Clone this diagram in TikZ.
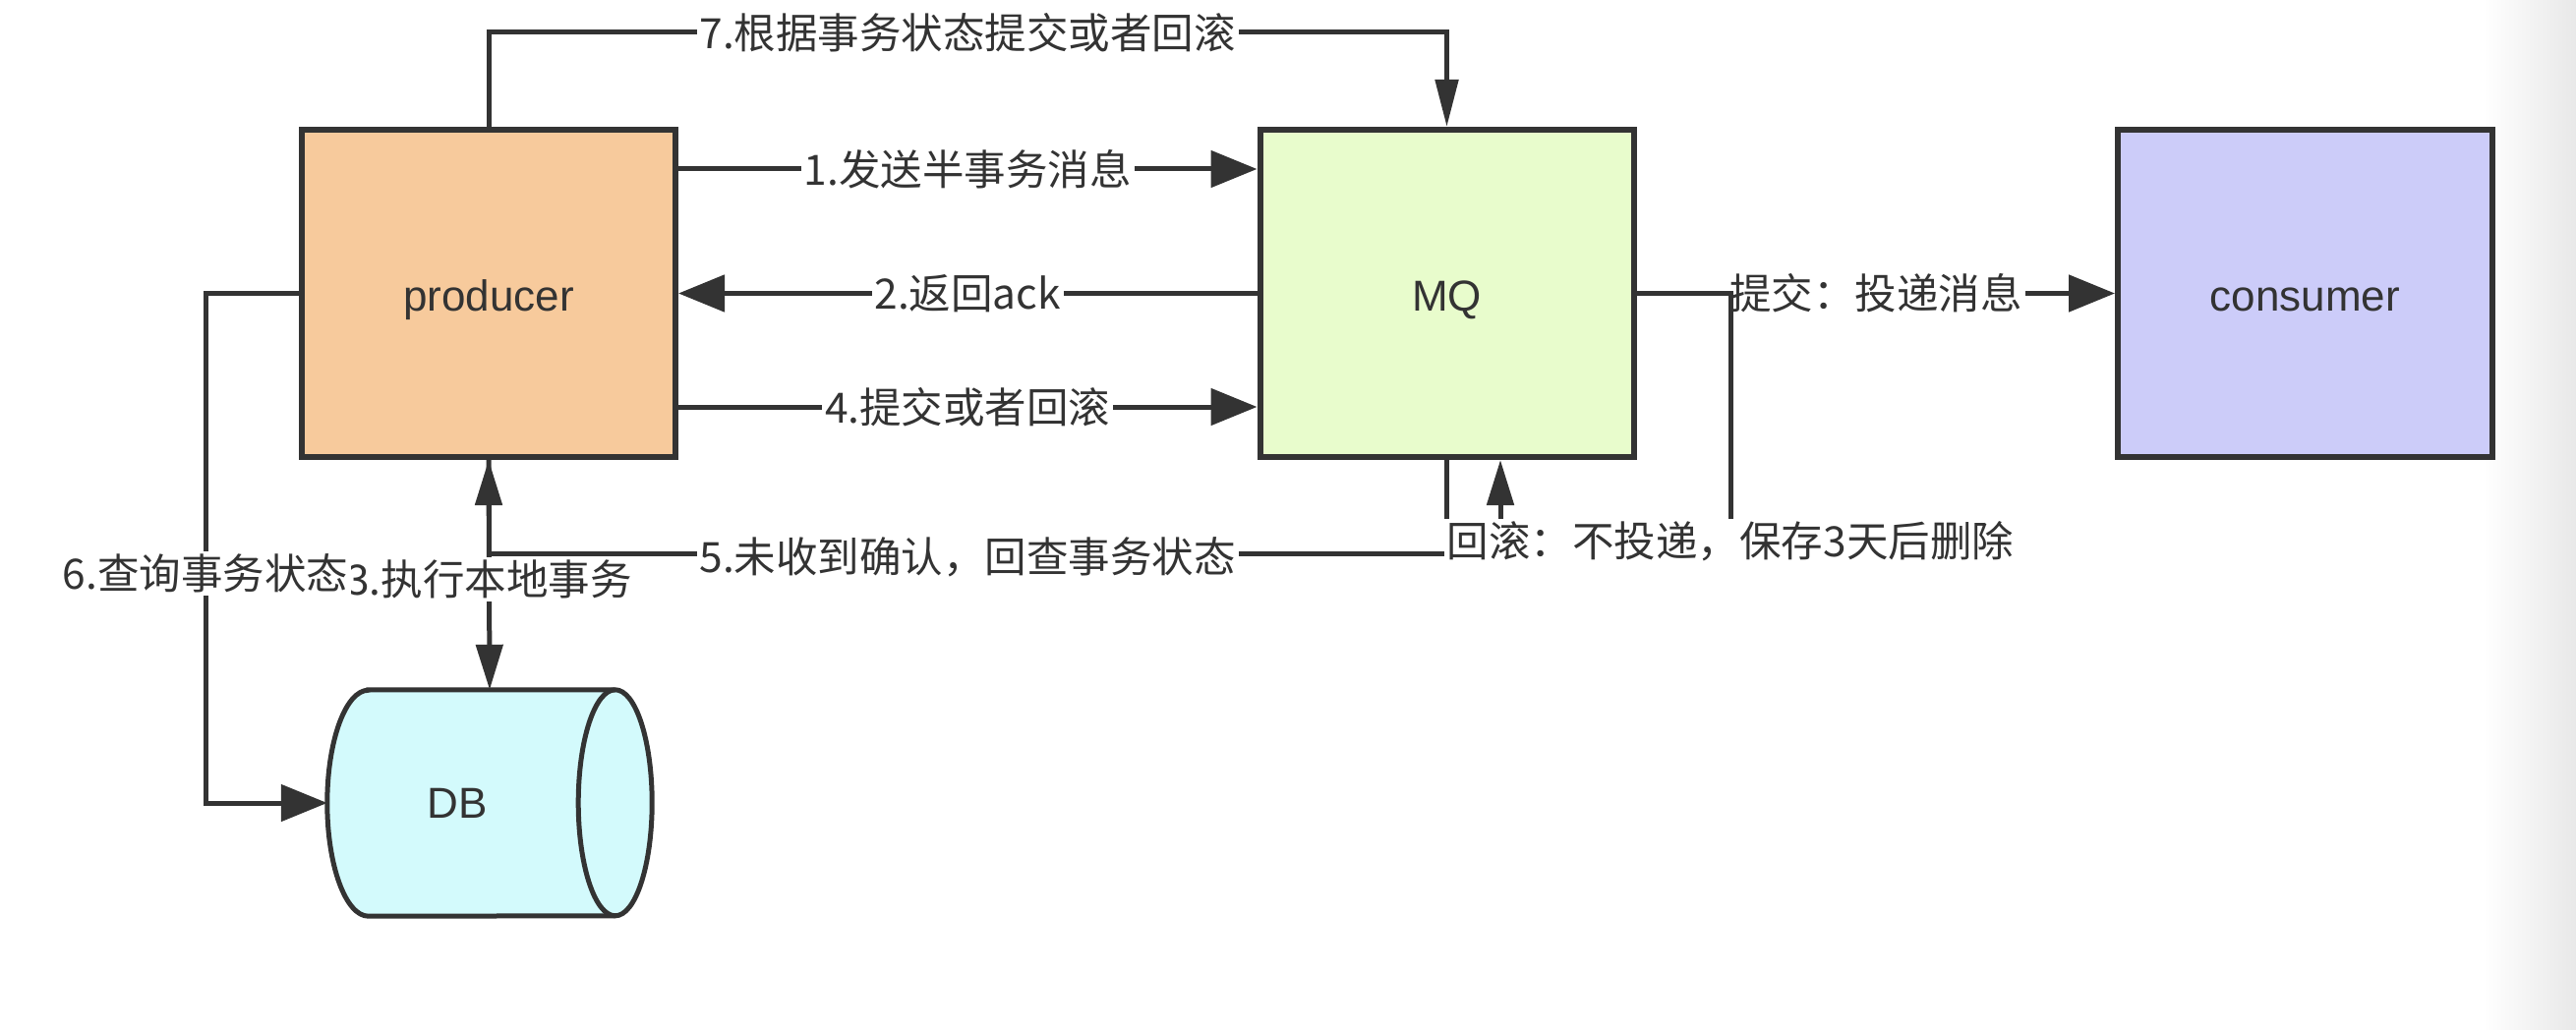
\documentclass[tikz,border=0pt]{standalone}
\usepackage{fontspec}
\setmainfont{Liberation Sans}
\newfontfamily\cjk{Noto Sans CJK SC}
\usetikzlibrary{arrows.meta}
\definecolor{ln}{HTML}{333333}
\definecolor{prodfill}{HTML}{F7CA9C}
\definecolor{mqfill}{HTML}{E8FCCC}
\definecolor{consfill}{HTML}{CCCCF9}
\definecolor{dbfill}{HTML}{D3FAFC}
\tikzset{
  box/.style={draw=ln, line width=6pt, minimum width=380pt, minimum height=333pt,
    inner sep=0pt, text=ln, font=\fontsize{44}{48}\selectfont,
    text height=37pt, text depth=0pt},
  lbl/.style={fill=white, inner sep=3pt, text=ln, font=\cjk\fontsize{42.5}{46}\selectfont},
  conn/.style={draw=ln, line width=5pt},
  hhead/.style={-{Triangle[length=47pt,width=37pt]}},
  vhead/.style={-{Triangle[length=46pt,width=27pt]}},
  vheadthin/.style={-{Triangle[length=48pt,width=23pt]}},
}
\begin{document}
\begin{tikzpicture}[x=1pt,y=-1pt]
\useasboundingbox (0,0) rectangle (2620,1048);
\fill[white] (0,0) rectangle (2620,1048);
\shade[left color=white, right color=black!9] (2525,0) rectangle (2620,1048);

\node[box, fill=prodfill] (prod) at (497,298.5) {producer};
\node[box, fill=mqfill] (mq) at (1471.5,298.5) {MQ};
\node[box, fill=consfill, minimum width=381pt] (cons) at (2344.5,298.5) {consumer};

% DB cylinder (body frame node + drawn outline)
\node[minimum width=330pt, minimum height=230pt, inner sep=0pt] (db) at (498,817) {};
\draw[ln, line width=5pt, fill=dbfill]
  ([xshift=42pt]db.north west) -- ([xshift=-37.5pt]db.north east)
  arc[start angle=90, end angle=-90, x radius=37.5pt, y radius=115pt]
  -- ([xshift=42pt]db.south west)
  arc[start angle=270, end angle=90, x radius=42pt, y radius=115pt] -- cycle;
\draw[ln, line width=5pt] ([xshift=-37.5pt]db.north east)
  arc[start angle=90, end angle=270, x radius=37.5pt, y radius=115pt];
\node[text=ln, font=\fontsize{44}{48}\selectfont, inner sep=0pt] (dbtext) at (465,817) {DB};

% 7
\draw[conn, vheadthin] (prod.north) -- (prod.north |- 0,33)
  -- node[lbl]{7.根据事务状态提交或者回滚} (mq.north |- 0,33) -- (mq.north);
% 1
\draw[conn, hhead] (prod.east |- 0,172) -- node[lbl]{1.发送半事务消息} (mq.west |- 0,172);
% 2
\draw[conn, hhead] (mq.west) -- node[lbl]{2.返回ack} (prod.east);
% 4
\draw[conn, hhead] (prod.east |- 0,414) -- node[lbl]{4.提交或者回滚} (mq.west |- 0,414);
% 3
\draw[conn, vhead] (prod.south) -- node[lbl, pos=0.52]{3.执行本地事务} (db.north);
% 5
\draw[conn, vhead] (mq.south) -- (mq.south |- 0,563)
  -- node[lbl, yshift=-4pt]{5.未收到确认，回查事务状态} (prod.south |- 0,563) -- (prod.south);
% commit
\draw[conn, hhead] (mq.east) -- node[lbl]{提交：投递消息} (cons.west);
% rollback
\draw[conn, vhead] (mq.east) -- (mq.east -| 1760,0) -- (1760,551)
  node[lbl]{回滚：不投递，保存3天后删除} -- (1526,551) -- (mq.south -| 1526,0);
% 6
\draw[conn, hhead] (prod.west) -- (prod.west -| 209,0)
  -- node[lbl, pos=0.55]{6.查询事务状态} (db.west -| 209,0) -- (db.west);
\end{tikzpicture}
\end{document}
